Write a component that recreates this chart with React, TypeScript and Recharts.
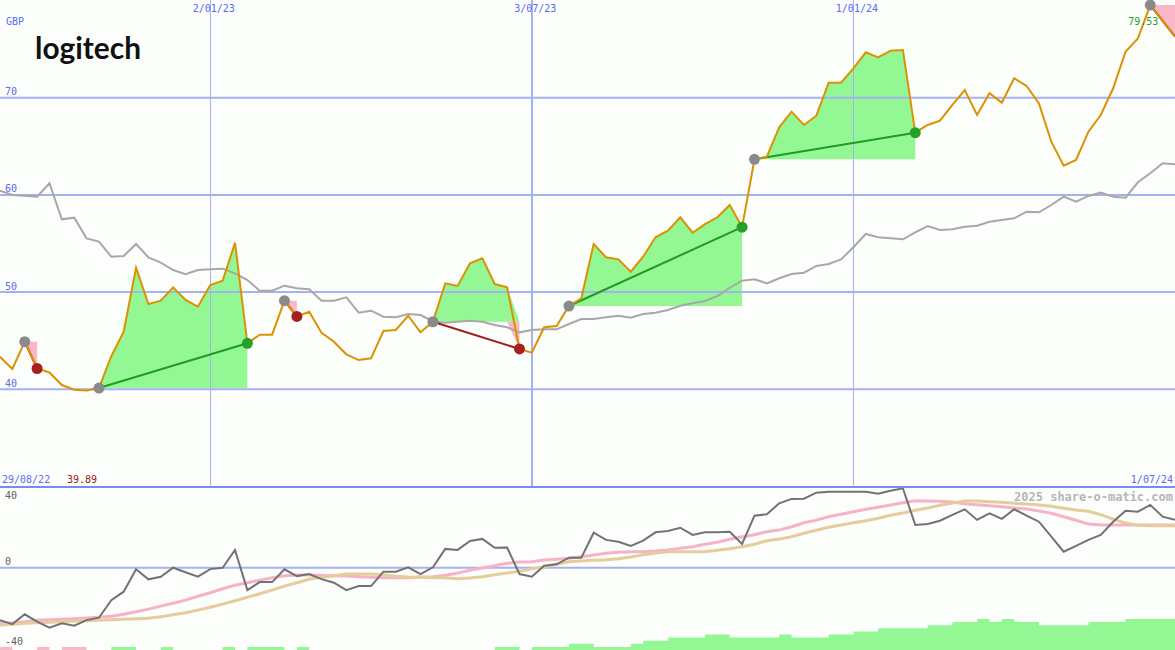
import React from 'react';
import { ComposedChart, Line, Area, XAxis, YAxis, ReferenceLine, ReferenceDot } from 'recharts';

// weekly closes (GBP), week 1 = 5/09/22 ... week 96 = 1/07/24
const price = [
  43.35, 42.09, 44.9, 42.14, 41.73, 40.44, 39.95, 39.89, 40.13, 43.4,
  45.93, 52.51, 48.78, 49.12, 50.49, 49.19, 48.5, 50.73, 51.17, 55.08,
  44.73, 45.62, 45.62, 49.12, 47.5, 47.98, 45.8, 44.9, 43.6, 43.01,
  43.19, 46.0, 46.1, 47.57, 45.86, 46.95, 50.9, 50.63, 52.96, 53.48,
  50.83, 50.49, 44.15, 43.77, 46.38, 46.51, 48.57, 49.36, 54.95, 53.58,
  53.37, 52.1, 53.64, 55.64, 56.32, 57.7, 56.11, 57.0, 57.7, 58.96,
  56.68, 63.66, 63.93, 66.95, 68.56, 67.19, 68.15, 71.54, 71.54, 73.02,
  74.67, 74.15, 74.84, 74.91, 66.4, 67.19, 67.63, 69.25, 70.79, 68.22,
  70.45, 69.49, 72.0, 71.2, 69.42, 65.47, 63.0, 63.59, 66.5, 68.22,
  70.97, 74.73, 76.1, 79.53, 77.91, 76.28,
];

// comparison index, rebased to the same scale
const bench = [
  60.43, 59.99, 59.92, 59.82, 61.2, 57.49, 57.66, 55.53, 55.19, 53.64,
  53.71, 54.95, 53.58, 53.03, 52.27, 51.83, 52.27, 52.35, 52.41, 51.93,
  51.24, 50.14, 50.14, 50.66, 50.4, 50.29, 49.12, 49.12, 49.46, 47.88,
  48.09, 47.47, 47.41, 47.75, 47.64, 47.0, 46.85, 46.95, 47.06, 46.95,
  46.62, 46.38, 45.86, 46.1, 46.17, 46.17, 46.72, 47.23, 47.23, 47.41,
  47.57, 47.37, 47.75, 47.88, 48.16, 48.6, 48.85, 49.08, 49.6, 50.45,
  51.17, 51.32, 50.9, 51.42, 51.86, 52.0, 52.69, 52.89, 53.37, 54.61,
  55.98, 55.64, 55.53, 55.43, 56.15, 56.8, 56.39, 56.46, 56.73, 56.83,
  57.24, 57.42, 57.59, 58.27, 58.21, 58.96, 59.82, 59.3, 59.89, 60.23,
  59.82, 59.71, 61.3, 62.22, 63.25, 63.15,
];

const momentum = [
  -26.2, -28.2, -23.3, -27.0, -30.0, -27.8, -29.0, -26.2, -25.0, -16.2,
  -12.0, -0.8, -5.8, -4.5, 0, -2.3, -4.5, -0.7, 0, 8.9,
  -11.2, -7.2, -7.2, -0.8, -4.2, -3.2, -5.7, -7.5, -11.2, -9.2,
  -9.2, -2.0, -2.0, 0.2, -3.2, 0.2, 9.4, 8.9, 13.4, 14.4,
  10.0, 10.1, -3.2, -4.5, 1.0, 1.7, 5.0, 5.0, 17.5, 13.9,
  13.0, 10.9, 13.5, 17.7, 18.4, 20.0, 16.4, 17.7, 17.7, 18.0,
  11.9, 26.0, 26.7, 32.2, 34.4, 34.5, 37.5, 38.0, 38.0, 38.0,
  38.0, 37.0, 38.5, 39.7, 21.4, 21.9, 23.5, 26.4, 29.2, 23.9,
  27.2, 24.4, 29.2, 26.0, 23.0, 15.5, 8.0, 10.9, 13.9, 16.4,
  23.0, 28.5, 28.0, 31.4, 25.5, 23.9,
];

const maFast = [
  -27.8, -27.5, -27.0, -26.3, -26.0, -25.8, -25.5, -25.2, -24.8, -24.3,
  -23.3, -22.0, -20.7, -19.2, -17.8, -16.2, -14.3, -12.5, -10.5, -8.8,
  -7.5, -6.2, -5.0, -4.0, -3.7, -3.7, -3.8, -4.0, -4.2, -4.5,
  -4.8, -5.0, -5.0, -5.0, -4.7, -4.5, -3.8, -2.7, -1.3, -0.2,
  1.0, 2.2, 2.8, 3.0, 3.8, 4.2, 4.7, 5.5, 6.3, 7.2,
  7.7, 8.0, 8.0, 8.3, 8.8, 9.7, 10.5, 11.7, 12.7, 14.2,
  15.5, 16.5, 18.0, 18.8, 20.5, 22.5, 23.8, 25.5, 26.7, 28.0,
  29.2, 30.2, 31.3, 32.5, 33.5, 33.3, 33.2, 32.8, 32.0, 31.5,
  31.0, 30.5, 29.8, 29.3, 28.3, 27.2, 25.5, 23.7, 21.8, 21.3,
  21.3, 21.3, 21.3, 21.3, 21.3, 21.3,
];

const maSlow = [
  -28.7, -28.3, -27.8, -27.5, -27.3, -27.0, -26.7, -26.5, -26.3, -26.0,
  -25.8, -25.5, -25.3, -24.5, -23.5, -22.5, -21.2, -19.8, -18.2, -16.5,
  -14.8, -13.0, -11.2, -9.2, -7.5, -5.8, -4.8, -4.0, -3.2, -3.2,
  -3.2, -3.5, -4.3, -4.7, -4.8, -5.0, -5.0, -5.5, -5.2, -4.5,
  -3.5, -2.7, -1.8, -0.5, 0.5, 1.7, 3.0, 3.3, 3.7, 4.0,
  4.5, 5.3, 6.5, 7.3, 8.0, 8.0, 8.0, 8.0, 8.7, 9.5,
  10.5, 11.7, 13.5, 14.3, 15.5, 17.2, 18.7, 20.2, 21.3, 22.5,
  23.5, 24.7, 26.2, 27.3, 28.7, 29.8, 31.2, 32.3, 33.3, 33.3,
  33.0, 32.7, 32.2, 31.8, 31.3, 30.7, 29.7, 28.8, 28.2, 26.5,
  24.3, 22.3, 21.2, 21.0, 21.0, 21.0,
];

// strength blocks at the foot of the lower panel (+ green, - pink)
const strength = [
  -1, 0, 0, -1, 0, -1, -1, 0, 0, 1,
  1, 0, 0, 1, 0, 0, 0, 0, 1, 0,
  1, 1, 1, 0, 1, 0, 0, 0, 0, 0,
  0, 0, 0, 0, 0, 0, 0, 0, 0, 0,
  1, 1, 0, 1, 1, 1, 2, 2, 1, 1,
  1, 2, 3, 3, 4, 4, 4, 5, 5, 4,
  4, 4, 4, 5, 4, 4, 4, 5, 5, 6,
  6, 7, 7, 7, 7, 8, 8, 9, 9, 10,
  9, 10, 9, 9, 8, 8, 8, 8, 9, 9,
  9, 10, 10, 10, 10, 10,
];

const dateIdx = [18, 44, 70];
const dateLabels = ['2/01/23', '3/07/23', '1/01/24'];
const startLabel = '29/08/22';
const endLabel = '1/07/24';
const priceTicks = [40, 50, 60, 70];
const momTicks = [40, 0, -40];

// trades: entry week, exit week
const tradeIn = [3, 9, 24, 36, 47, 62, 94];
const tradeOut = [4, 21, 25, 43, 61, 75, 96];
const tradeOpen = [false, false, false, false, false, false, true];

const W = 1175;
const TOP_H = 487;
const BOT_H = 163;
const BG = '#fcfefc';
const GRID = '#a6b2f0';
const BLUE_TXT = '#5a6cf0';
const MONO = '"DejaVu Sans Mono", monospace';
const GREEN_FILL = '#93f893';
const PINK_FILL = '#f9b8c8';

const isWin = (t: number) => price[tradeOut[t] - 1] > price[tradeIn[t] - 1];

const rows = price.map((p, k) => {
  const i = k + 1;
  const row: Record<string, any> = {
    i,
    price: p,
    bench: bench[k],
    mom: momentum[k],
    fast: maFast[k],
    slow: maSlow[k],
    up: Math.max(strength[k], 0),
    down: Math.max(-strength[k], 0),
  };
  tradeIn.forEach((a, t) => {
    const b = tradeOut[t];
    if (i < a || i > b) return;
    const base = price[a - 1];
    row[`gain${t}`] = [base, Math.max(p, base)];
    row[`loss${t}`] = [Math.min(p, base), base];
    if (i === a || i === b) row[`trade${t}`] = p;
  });
  return row;
});

const maxP = Math.max(...price);
const maxIdx = price.indexOf(maxP) + 1;
const minP = Math.min(...price);

const leftLabel = (text: string, color: string, below = false) => (props: any) => {
  const vb = props.viewBox || {};
  return (
    <text x={(vb.x || 0) + 5} y={(vb.y || 0) + (below ? 11 : -2.5)} fill={color} fontSize={10} fontFamily={MONO}>
      {text}
    </text>
  );
};

const dateLabel = (text: string) => (props: any) => {
  const vb = props.viewBox || {};
  return (
    <text x={(vb.x || 0) + 3.5} y={(vb.y || 0) + 12} textAnchor="middle" fill={BLUE_TXT} fontSize={10} fontFamily={MONO}>
      {text}
    </text>
  );
};

const maxLabel = (props: any) => {
  const vb = props.viewBox || {};
  const cx = (vb.x || 0) + (vb.width || 0) / 2;
  const cy = (vb.y || 0) + (vb.height || 0) / 2;
  return (
    <text x={cx + 8} y={cy + 20} textAnchor="end" fill="#2a9a2a" fontSize={10} fontFamily={MONO}>
      {maxP.toFixed(2)}
    </text>
  );
};

const tradeDot = (t: number) => (props: any) => {
  const { cx, cy, payload, index } = props;
  if (cx == null || cy == null || !payload || payload[`trade${t}`] == null) return <g key={`e${t}-${index}`} />;
  const entry = payload.i === tradeIn[t];
  if (!entry && tradeOpen[t]) return <g key={`e${t}-${index}`} />;
  const fill = entry ? '#8a8a8a' : isWin(t) ? '#26a026' : '#a52020';
  return <circle key={`d${t}-${index}`} cx={cx} cy={cy} r={5.5} fill={fill} />;
};

const vLines = () =>
  dateIdx.map((d) => (
    <ReferenceLine
      key={`v${d}`}
      x={d}
      stroke={GRID}
      strokeWidth={d === 44 ? 2 : 1}
      shapeRendering="crispEdges"
    />
  ));

export default function App() {
  const margin = { top: 0, right: 0, bottom: 0, left: 0 };
  return (
    <div style={{ position: 'relative', width: W, height: TOP_H + BOT_H, background: BG, overflow: 'hidden' }}>
      <style>{'body{margin:0}'}</style>

      <ComposedChart width={W} height={TOP_H} data={rows} margin={margin}>
        <XAxis type="number" dataKey="i" domain={[1, 96]} hide allowDataOverflow />
        <YAxis domain={[29.95, 80.05]} hide allowDataOverflow />
        {priceTicks.map((v) => (
          <ReferenceLine key={`h${v}`} y={v} stroke={GRID} strokeWidth={2} label={leftLabel(String(v), BLUE_TXT)} />
        ))}
        {vLines()}
        {dateIdx.map((d, k) => (
          <ReferenceLine key={`lbl${d}`} x={d} stroke="none" label={dateLabel(dateLabels[k])} />
        ))}
        {tradeIn.map((_, t) => (
          <Area
            key={`g${t}`}
            dataKey={`gain${t}`}
            type="linear"
            stroke="none"
            fill={GREEN_FILL}
            fillOpacity={1}
            dot={false}
            activeDot={false}
            isAnimationActive={false}
          />
        ))}
        {tradeIn.map((_, t) => (
          <Area
            key={`l${t}`}
            dataKey={`loss${t}`}
            type="linear"
            stroke="none"
            fill={PINK_FILL}
            fillOpacity={1}
            dot={false}
            activeDot={false}
            isAnimationActive={false}
          />
        ))}
        <Line dataKey="bench" type="linear" stroke="#a8a8a8" strokeWidth={2} dot={false} activeDot={false} isAnimationActive={false} />
        {tradeIn.map((_, t) => (
          <Line
            key={`t${t}`}
            dataKey={`trade${t}`}
            type="linear"
            connectNulls
            stroke={isWin(t) ? '#229a22' : '#a01c1c'}
            strokeWidth={2}
            dot={tradeDot(t)}
            activeDot={false}
            isAnimationActive={false}
          />
        ))}
        <Line dataKey="price" type="linear" stroke="#dc9200" strokeWidth={2} dot={false} activeDot={false} isAnimationActive={false} />
        <ReferenceDot x={maxIdx} y={maxP} r={0} fill="none" stroke="none" label={maxLabel} />
      </ComposedChart>

      <ComposedChart width={W} height={BOT_H} data={rows} margin={margin}>
        <XAxis type="number" dataKey="i" domain={[1, 96]} hide allowDataOverflow />
        <YAxis yAxisId="m" domain={[-41.15, 40.35]} hide allowDataOverflow />
        <YAxis yAxisId="lvl" domain={[0, 52.6]} hide allowDataOverflow />
        {momTicks.map((v) => (
          <ReferenceLine
            key={`m${v}`}
            yAxisId="m"
            y={v}
            stroke={v === 0 ? GRID : 'none'}
            strokeWidth={2}
            label={leftLabel(String(v), '#606060', v === 40)}
          />
        ))}
        {vLines()}
        <Area yAxisId="lvl" dataKey="up" type="stepAfter" stroke="none" fill={GREEN_FILL} fillOpacity={1} dot={false} activeDot={false} isAnimationActive={false} />
        <Area yAxisId="lvl" dataKey="down" type="stepAfter" stroke="none" fill={PINK_FILL} fillOpacity={1} dot={false} activeDot={false} isAnimationActive={false} />
        <Line yAxisId="m" dataKey="fast" type="linear" stroke="#f8b2c8" strokeWidth={3} dot={false} activeDot={false} isAnimationActive={false} />
        <Line yAxisId="m" dataKey="slow" type="linear" stroke="#e6cc9a" strokeWidth={3} dot={false} activeDot={false} isAnimationActive={false} />
        <Line yAxisId="m" dataKey="mom" type="linear" stroke="#727272" strokeWidth={2} dot={false} activeDot={false} isAnimationActive={false} />
      </ComposedChart>

      <svg width={W} height={TOP_H + BOT_H} style={{ position: 'absolute', left: 0, top: 0, pointerEvents: 'none' }}>
        <text x={35} y={58.5} fontFamily='Lato, "Noto Sans", sans-serif' fontWeight={700} fontSize={31} fill="#111" textLength={106} lengthAdjust="spacingAndGlyphs">
          logitech
        </text>
        <text x={6} y={25} fontFamily={MONO} fontSize={10} fill={BLUE_TXT}>GBP</text>
        <rect x={0} y={486} width={W} height={2} fill="#7b8af0" />
        <text x={2} y={482.5} fontFamily={MONO} fontSize={10} fill={BLUE_TXT}>{startLabel}</text>
        <text x={67} y={482.5} fontFamily={MONO} fontSize={10} fill="#a02020">{minP.toFixed(2)}</text>
        <text x={1173} y={482.5} textAnchor="end" fontFamily={MONO} fontSize={10} fill={BLUE_TXT}>{endLabel}</text>
        <text x={1173} y={500.5} textAnchor="end" fontFamily={MONO} fontSize={12} fontWeight="bold" fill="#b6b6b6">
          2025 share-o-matic.com
        </text>
      </svg>
    </div>
  );
}
